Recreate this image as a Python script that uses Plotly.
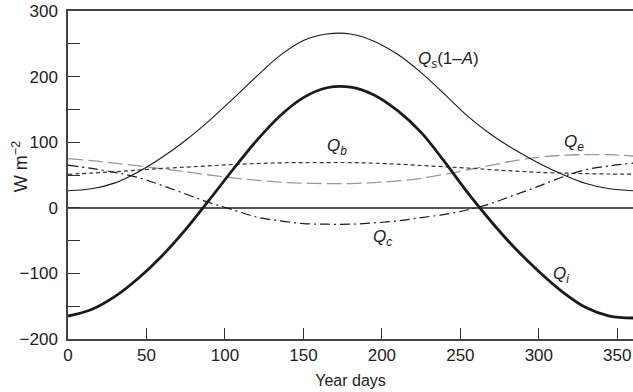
import plotly.graph_objects as go

days = [0, 15, 30, 45, 60, 75, 90, 105, 120, 135, 150, 165, 180,
        195, 210, 225, 240, 255, 270, 285, 300, 315, 330, 345, 360]

qs = [26, 29, 38, 55, 77, 103, 133, 166, 200, 232, 255, 265, 265,
      254, 234, 206, 173, 139, 111, 88, 68, 51, 37, 29, 26]
qb = [51, 53, 55, 57.5, 60, 62, 64, 66, 67.5, 68.5, 69, 69, 69,
      68, 66.5, 64.5, 62.5, 60.5, 58, 56, 54, 53, 52, 51.5, 51.5]
qe = [75, 72, 68, 64, 59.5, 55, 50, 45.5, 42, 39, 37.5, 37, 37,
      38.5, 41, 45, 51, 58, 65, 72, 77, 80, 81, 81, 79]
qc = [65, 60, 54, 46, 34, 21, 8, -3, -14, -20, -24, -25, -25,
      -23, -20, -15, -10, -3, 7, 20, 33, 47, 58, 64, 68]
qi = [-165, -155, -135, -107, -73, -33, 12, 58, 102, 140, 168, 183, 184,
      172, 148, 115, 70, 22, -22, -62, -97, -128, -152, -165, -168]

x_ticks = [0, 50, 100, 150, 200, 250, 300, 350]
y_ticks = [-200, -150, -100, -50, 0, 50, 100, 150, 200, 250, 300]
y_labels = ["\u2212200", "", "\u2212100", "", "0", "", "100", "", "200", "", "300"]

labels = [
    ("<i>Q</i><sub><i>s</i></sub>(1\u2013<i>A</i>)", 222, 226),
    ("<i>Q</i><sub><i>b</i></sub>", 164, 93),
    ("<i>Q</i><sub><i>e</i></sub>", 315, 99),
    ("<i>Q</i><sub><i>c</i></sub>", 193, -46),
    ("<i>Q</i><sub><i>i</i></sub>", 308, -103),
]

fig = go.Figure()
fig.add_trace(go.Scatter(x=days, y=qe, mode="lines", line_shape="spline",
                         line=dict(color="#9a9a9a", width=1.3, dash="15px,5px")))
fig.add_trace(go.Scatter(x=days, y=qb, mode="lines", line_shape="spline",
                         line=dict(color="#333333", width=1.2, dash="4px,3px")))
fig.add_trace(go.Scatter(x=days, y=qc, mode="lines", line_shape="spline",
                         line=dict(color="#1a1a1a", width=1.2, dash="10px,4px,2px,4px")))
fig.add_trace(go.Scatter(x=days, y=qs, mode="lines", line_shape="spline",
                         line=dict(color="#1a1a1a", width=1.1)))
fig.add_trace(go.Scatter(x=days, y=qi, mode="lines", line_shape="spline",
                         line=dict(color="#1a1a1a", width=2.8)))

for text, x, y in labels:
    fig.add_annotation(x=x, y=y, text=text, showarrow=False, xanchor="left",
                       yanchor="middle", font=dict(size=17, color="#222"))

fig.add_annotation(xref="paper", yref="paper", x=(20 - 68) / 565, y=0.524,
                   text="W m<sup>\u22122</sup>", textangle=-90, showarrow=False,
                   xanchor="center", yanchor="middle",
                   font=dict(size=18, color="#222"))

fig.update_layout(
    width=633, height=392,
    margin=dict(l=68, r=0, t=11, b=53),
    paper_bgcolor="white", plot_bgcolor="white",
    showlegend=False,
    font=dict(family="Liberation Sans, Arial, sans-serif", size=17, color="#222"),
)
fig.update_xaxes(range=[0, 360], tickvals=x_ticks, ticks="inside", ticklen=11,
                 tickwidth=1.2, tickcolor="#333", showline=True, linecolor="#444",
                 linewidth=1.5, mirror=True, showgrid=False, zeroline=False,
                 title=dict(text="Year days", font=dict(size=16), standoff=11),
                 tickfont=dict(size=17))
fig.update_yaxes(range=[-200, 300], tickvals=y_ticks, ticktext=y_labels,
                 ticks="inside", ticklen=12, tickwidth=1.2, tickcolor="#333",
                 showline=True, linecolor="#444", linewidth=1.5, showgrid=False,
                 zeroline=True, zerolinecolor="#555", zerolinewidth=1.5,
                 ticklabelstandoff=5, tickfont=dict(size=17))

fig.write_html("out.html")
